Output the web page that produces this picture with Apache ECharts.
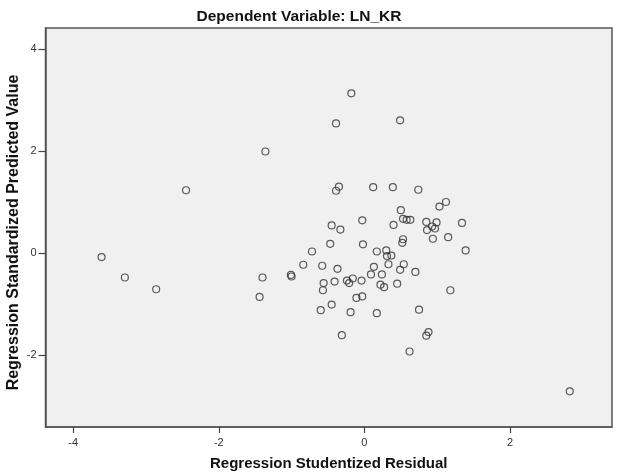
<!DOCTYPE html>
<html>
<head>
<meta charset="utf-8">
<script src="https://cdn.jsdelivr.net/npm/echarts@6/dist/echarts.min.js"></script>
<style>
  html, body { margin: 0; padding: 0; background: #fff; }
  #chart { width: 620px; height: 476px; }
</style>
</head>
<body>
<div id="chart"></div>
<script>
// studentized residual (x) and standardized predicted value (y)
var residual = [
    -0.18, -0.39, 0.49, -1.36, -2.45, -0.35, -0.39, 0.12, 0.39, 0.74,
    1.12, 1.03, 0.50, -0.03, -0.45, -0.33, 0.40, 0.53, 0.58, 0.63,
    0.85, 0.99, 0.93, 0.97, 0.86, 1.34, 0.94, 1.15, 0.53, 0.52,
    -0.47, -0.02, -0.72, 0.17, 0.30, 0.37, 0.31, 1.39, -3.61, -0.84,
    -0.58, 0.33, 0.54, -1.01, -1.00, -0.37, 0.13, 0.49, 0.70, 0.09,
    0.24, -3.29, -1.40, -0.56, -0.57, -0.41, -0.24, -0.21, -0.16, -0.04,
    0.22, 0.27, 0.45, 1.18, -2.86, -1.44, -0.11, -0.03, -0.45, -0.60,
    -0.19, 0.17, 0.75, -0.31, 0.88, 0.85, 0.62, 2.82
];
var predicted = [
    3.13, 2.54, 2.60, 1.99, 1.23, 1.30, 1.22, 1.29, 1.29, 1.24,
    1.00, 0.91, 0.84, 0.64, 0.54, 0.46, 0.55, 0.67, 0.65, 0.65,
    0.61, 0.60, 0.52, 0.48, 0.45, 0.59, 0.28, 0.31, 0.27, 0.20,
    0.18, 0.17, 0.03, 0.03, 0.05, -0.05, -0.06, 0.05, -0.08, -0.23,
    -0.25, -0.22, -0.22, -0.43, -0.46, -0.31, -0.27, -0.33, -0.37, -0.42,
    -0.42, -0.48, -0.48, -0.59, -0.73, -0.56, -0.54, -0.59, -0.50, -0.54,
    -0.62, -0.67, -0.60, -0.73, -0.71, -0.86, -0.88, -0.85, -1.01, -1.12,
    -1.16, -1.18, -1.11, -1.61, -1.55, -1.62, -1.93, -2.71
];
var xTicks = [-4, -2, 0, 2];
var yTicks = [-2, 0, 2, 4];

var points = [];
for (var i = 0; i < residual.length; i++) {
    points.push([residual[i], predicted[i]]);
}

var myChart = echarts.init(document.getElementById('chart'));
var font = '"Liberation Sans", Arial, sans-serif';

var option = {
    animation: false,
    backgroundColor: '#ffffff',
    title: {
        text: 'Dependent Variable: LN_KR',
        left: 299,
        textAlign: 'center',
        top: 9,
        padding: 0,
        textStyle: { fontFamily: font, fontSize: 15.5, fontWeight: 'bold', color: '#111' }
    },
    grid: {
        left: 45.5,
        right: 8,
        top: 28,
        bottom: 49,
        outerBoundsMode: 'none',
        show: true,
        backgroundColor: '#f0f0f0',
        borderColor: '#555',
        borderWidth: 1.5
    },
    xAxis: {
        type: 'value',
        min: -4.38,
        max: 3.40,
        name: 'Regression Studentized Residual',
        nameLocation: 'middle',
        nameGap: 29,
        nameMoveOverlap: false,
        nameTextStyle: { fontFamily: font, fontSize: 15, fontWeight: 'bold', color: '#111' },
        axisLine: { show: true, onZero: false, lineStyle: { color: '#555', width: 1.5 } },
        splitLine: { show: false },
        axisTick: { show: true, length: 6, customValues: xTicks, lineStyle: { color: '#444', width: 1.2 } },
        axisLabel: { customValues: xTicks, margin: 10, fontFamily: font, fontSize: 11, color: '#333' }
    },
    yAxis: {
        type: 'value',
        min: -3.41,
        max: 4.41,
        name: 'Regression Standardized Predicted Value',
        nameLocation: 'middle',
        nameGap: 24,
        nameMoveOverlap: false,
        nameTextStyle: { fontFamily: font, fontSize: 16, fontWeight: 'bold', color: '#111', padding: [0, 10, 0, 0] },
        axisLine: { show: true, onZero: false, lineStyle: { color: '#555', width: 1.5 } },
        splitLine: { show: false },
        axisTick: { show: true, length: 7, customValues: yTicks, lineStyle: { color: '#444', width: 1.2 } },
        axisLabel: { customValues: yTicks, margin: 9, fontFamily: font, fontSize: 11, color: '#333' }
    },
    series: [
        {
            type: 'scatter',
            data: points,
            symbol: 'circle',
            symbolSize: 7,
            itemStyle: { color: 'rgba(0,0,0,0)', borderColor: '#333', borderWidth: 1.2 }
        }
    ]
};
myChart.setOption(option);
</script>
</body>
</html>
